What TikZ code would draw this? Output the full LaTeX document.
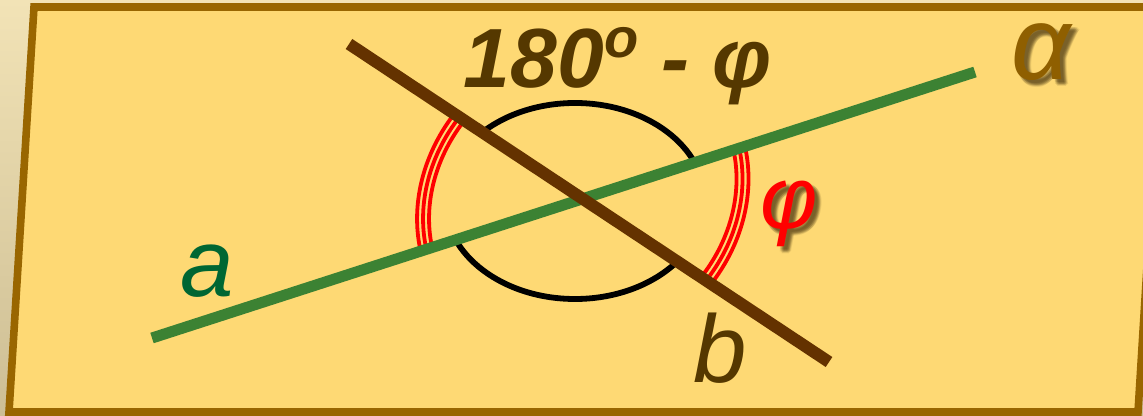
\documentclass[tikz,border=0pt]{standalone}
\usepackage{fontspec}
\setmainfont{Liberation Sans}
\definecolor{bgtop}{HTML}{F2E3B6}
\definecolor{bgbot}{HTML}{CDBE94}
\definecolor{planefill}{HTML}{FED974}
\definecolor{planeedge}{HTML}{996600}
\definecolor{lineA}{HTML}{3C8233}
\definecolor{lineB}{HTML}{643200}
\definecolor{labA}{HTML}{006633}
\definecolor{labB}{HTML}{553800}
\definecolor{alphac}{HTML}{8F5F00}
\definecolor{shadowc}{HTML}{2A1A00}
\tikzset{
  planestyle/.style={fill=planefill, draw=planeedge, line width=3.8pt, line join=miter},
  lineastyle/.style={draw=lineA, line width=5.5pt},
  linebstyle/.style={draw=lineB, line width=6pt},
  blackarc/.style={draw=black, line width=2.9pt},
  redarc/.style={draw=red, line width=1.9pt},
  headtxt/.style={text=labB, font=\fontsize{42}{46}\selectfont\bfseries\itshape, inner sep=0pt},
  phitxt/.style={text=red, font=\fontsize{44}{48}\selectfont\itshape, inner sep=0pt},
  alphatxt/.style={text=alphac, font=\fontsize{52}{56}\selectfont\itshape, inner sep=0pt},
  labtxt/.style={font=\fontsize{48}{52}\selectfont\itshape, inner sep=0pt},
  shtxt/.style={text=shadowc, opacity=0.09, inner sep=0pt}
}
\begin{document}
\begin{tikzpicture}[x=0.5pt,y=-0.5pt]
\useasboundingbox (0,0) rectangle (1143,416);
\clip (0,0) rectangle (1143,416);
\shade[top color=bgtop, bottom color=bgbot] (0,0) rectangle (1143,416);
% plane
\draw[planestyle] (34,7) -- (1163,7) -- (1138,412) -- (9,412) -- cycle;
% line end points
\coordinate (a1) at (152,338);
\coordinate (a2) at (975,72);
\coordinate (b1) at (349,44);
\coordinate (b2) at (829,362);
\coordinate (O) at (intersection of a1--a2 and b1--b2);
% black arcs (180 - phi)
\begin{scope}
  \clip (O) -- (a2) -- (975,-50) -- (349,-50) -- (b1) -- cycle
        (O) -- (a1) -- (152,500) -- (829,500) -- (b2) -- cycle;
  \draw[blackarc] (575,201) ellipse [x radius=130, y radius=98];
\end{scope}
% red arcs (phi)
\begin{scope}
  \clip (O) -- (b1) -- (0,44) -- (0,338) -- (a1) -- cycle
        (O) -- (a2) -- (1143,72) -- (1143,362) -- (b2) -- cycle;
  \foreach \r in {-6,0,6}
    \draw[redarc, rotate around={37:(O)}] (O) ellipse [x radius=167+\r, y radius=146+\r];
\end{scope}
% lines
\draw[lineastyle] (a1) -- (a2);
\draw[linebstyle] (b1) -- (b2);
% labels
\node[headtxt, anchor=base] (ang) at (618,88) {180{\fontsize{28}{28}\selectfont\raisebox{15pt}{o}} - φ};
\foreach \dx/\dy [count=\i] in {3/3,4/4,5/5,6/6,5/3,3/5,7/5,5/7,4/6,6/4}
  \node[phitxt, shtxt] (phish-\i) at (789+\dx,214+\dy) {φ};
\node[phitxt] (phi) at (789,214) {φ};
\foreach \dx/\dy [count=\i] in {3/3,4/4,5/5,6/6,5/3,3/5,7/5,5/7,4/6,6/4}
  \node[alphatxt, shtxt, anchor=base] (alsh-\i) at (1041+\dx,80+\dy) {α};
\node[alphatxt, anchor=base] (alpha) at (1041,80) {α};
\node[labtxt, text=labA, anchor=base] (la) at (207,296) {a};
\node[labtxt, text=labB, anchor=base] (lb) at (720,382) {b};
\end{tikzpicture}
\end{document}
